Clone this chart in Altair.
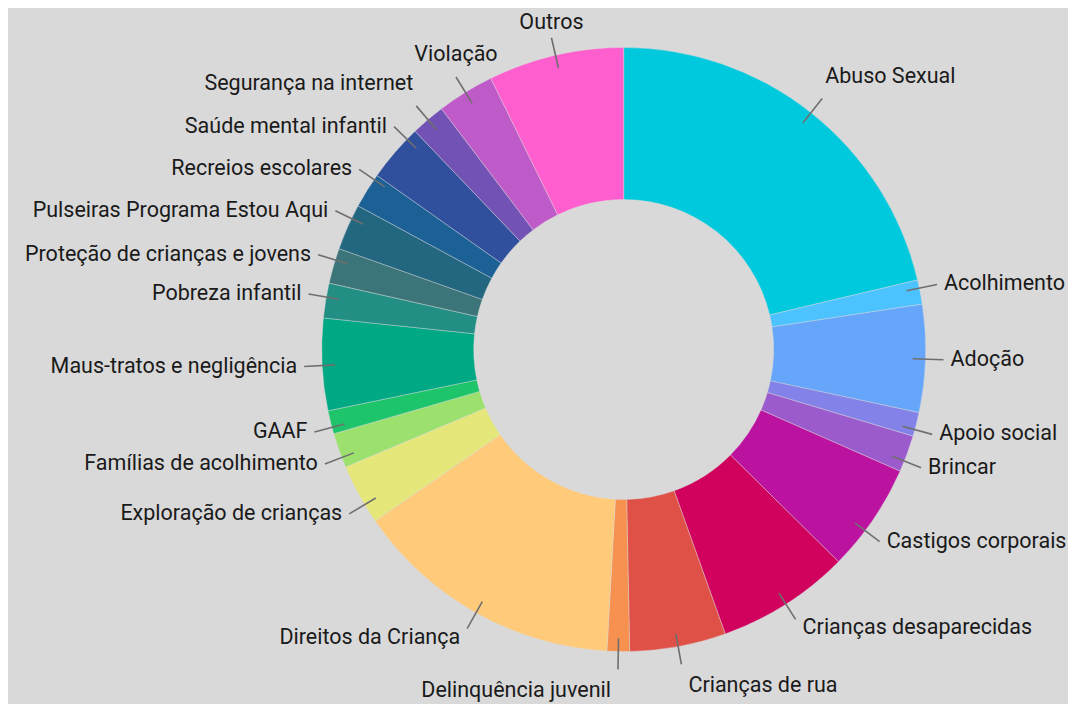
import altair as alt
import pandas as pd

categories = [
    "Abuso Sexual", "Acolhimento", "Adoção", "Apoio social", "Brincar",
    "Castigos corporais", "Crianças desaparecidas", "Crianças de rua",
    "Delinquência juvenil", "Direitos da Criança", "Exploração de crianças",
    "Famílias de acolhimento", "GAAF", "Maus-tratos e negligência",
    "Pobreza infantil", "Proteção de crianças e jovens",
    "Pulseiras Programa Estou Aqui", "Recreios escolares",
    "Saúde mental infantil", "Segurança na internet", "Violação", "Outros",
]
values = [21.3, 1.3, 5.75, 1.28, 1.97, 5.8, 7.14, 5.14, 1.2, 14.5, 3.25,
          1.86, 1.25, 4.92, 1.86, 1.89, 2.47, 1.89, 3.08, 1.83, 3.06, 7.25]
colors = [
    "#00C9DD", "#4CC3FF", "#66A6FA", "#8282E8", "#9C5BCC", "#BB139F",
    "#D0025E", "#DF5147", "#F79150", "#FFCA7A", "#E6E77A", "#9CE06E",
    "#1EC46A", "#00A884", "#228E84", "#3B7579", "#226680", "#1C6196",
    "#30509E", "#7252B4", "#BF5BC8", "#FF5ECE",
]

df = pd.DataFrame({"cat": categories, "value": values,
                   "idx": list(range(len(categories)))})

CX, CY = 615.7, 341.5
R_OUT, R_IN = 302, 150
L1, L2 = 289, 320

base = alt.Chart(df)

arcs = base.mark_arc(outerRadius=R_OUT, innerRadius=R_IN, stroke="#dcdcdc",
                     strokeWidth=0.4).encode(
    theta=alt.Theta("value:Q", stack=True),
    order=alt.Order("idx:Q"),
    color=alt.Color("cat:N", scale=alt.Scale(domain=categories, range=colors),
                    legend=None),
    x=alt.value(CX),
    y=alt.value(CY),
)

geo = base.transform_window(
    cum="sum(value)", sort=[alt.SortField("idx")], frame=[None, 0]
).transform_joinaggregate(
    total="sum(value)"
).transform_calculate(
    mid="2*PI*(datum.cum - datum.value/2)/datum.total"
).transform_calculate(
    s="sin(datum.mid)", c="cos(datum.mid)"
).transform_calculate(
    # spread side labels slightly away from the horizontal axis
    m2=f"datum.mid + (abs(datum.c) <= 0.75 ? (-22*datum.c)/({L2}*datum.s) : 0)"
).transform_calculate(
    s2="sin(datum.m2)", c2="cos(datum.m2)"
).transform_calculate(
    x1=f"{CX} + {L1}*datum.s2", y1=f"{CY} - {L1}*datum.c2",
    x2=f"{CX} + {L2}*datum.s2", y2=f"{CY} - {L2}*datum.c2",
).transform_calculate(
    ty="datum.y2 + (datum.c > 0.95 ? -15 : (datum.c > 0.75 ? -22 : "
       "(datum.c < -0.95 ? 22 : (datum.c < -0.75 ? 9 : 0))))",
    grp="(datum.c > 0.75 && abs(datum.s) < 0.55) ? 'center' : "
        "(datum.s >= 0 ? 'left' : 'right')",
    ddx="datum.c > 0.75 ? 3 : 7",
)

lines = geo.mark_rule(color="#6f6f6f", strokeWidth=1.6).encode(
    x=alt.X("x1:Q", scale=None, axis=None),
    y=alt.Y("y1:Q", scale=None, axis=None),
    x2="x2:Q",
    y2="y2:Q",
)


def label_layer(group, align, sign):
    return geo.transform_filter(f"datum.grp == '{group}'").transform_calculate(
        tx=f"datum.x2 + {sign}*datum.ddx"
    ).mark_text(
        align=align, baseline="middle", font="Roboto", fontSize=21.5,
        color="#1a1a1a",
    ).encode(
        x=alt.X("tx:Q", scale=None, axis=None),
        y=alt.Y("ty:Q", scale=None, axis=None),
        text="cat:N",
    )


chart = alt.layer(
    arcs, lines,
    label_layer("left", "left", 1),
    label_layer("right", "right", -1),
    label_layer("center", "center", 0),
).properties(
    width=1060, height=696, padding=0,
    autosize=alt.AutoSizeParams(type="none"),
    background="#d9d9d9",
).configure_view(stroke=None)

chart.save("out.html", embed_options={"renderer": "svg", "actions": False})
